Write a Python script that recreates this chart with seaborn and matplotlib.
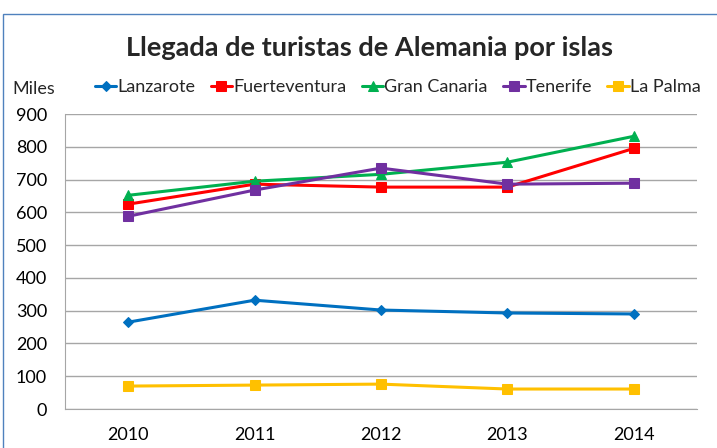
import matplotlib
matplotlib.use("Agg")
import matplotlib.pyplot as plt
import seaborn as sns
import pandas as pd
from matplotlib.patches import Rectangle

years = ["2010", "2011", "2012", "2013", "2014"]
lanzarote = [265, 332, 302, 293, 290]
fuerteventura = [625, 686, 677, 677, 795]
gran_canaria = [652, 695, 716, 753, 832]
tenerife = [588, 668, 735, 686, 689]
la_palma = [70, 73, 76, 61, 61]

islas = ["Lanzarote", "Fuerteventura", "Gran Canaria", "Tenerife", "La Palma"]
colores = ["#0070C0", "#FF0000", "#00B050", "#7030A0", "#FFC000"]
marcadores = ["D", "s", "^", "s", "s"]
tamanos = [5, 7.5, 7.5, 7.5, 7.5]

df = pd.DataFrame({"year": years, "Lanzarote": lanzarote, "Fuerteventura": fuerteventura,
                   "Gran Canaria": gran_canaria, "Tenerife": tenerife, "La Palma": la_palma})
df_long = df.melt(id_vars="year", var_name="isla", value_name="miles")

sns.set_style("white")
plt.rcParams['font.family'] = ['Lato', 'DejaVu Sans']

fig = plt.figure(figsize=(7.17, 4.48), dpi=100)
ax = fig.add_axes([0.0907, 0.087, 0.8813, 0.6585])

for isla, c, m, s in zip(islas, colores, marcadores, tamanos):
    d = df_long[df_long["isla"] == isla]
    sns.lineplot(data=d, x="year", y="miles", ax=ax, color=c, marker=m, markersize=s,
                 markeredgecolor=c, linewidth=2.2, label=isla)

ax.set_xlim(-0.5, 4.5)
ax.set_ylim(0, 900)
ax.set_yticks(range(0, 1000, 100))
ax.grid(axis="y", color="#A6A6A6", linewidth=1)
ax.set_axisbelow(True)
for sp in ["top", "right"]:
    ax.spines[sp].set_visible(False)
for sp in ["left", "bottom"]:
    ax.spines[sp].set_color("#A6A6A6")
ax.tick_params(axis="both", labelsize=13, length=0, colors="#000000")
ax.tick_params(axis="x", pad=13)
ax.tick_params(axis="y", pad=13)
ax.set_xlabel("")
ax.set_ylabel("")

leg = ax.legend(ncol=5, loc="center left", bbox_to_anchor=(0.047, 1.09), frameon=False,
                fontsize=13, handlelength=1.2, handletextpad=0.05, columnspacing=0.85,
                borderaxespad=0, borderpad=0)

fig.text(0.017, 0.802, "Miles", fontsize=13, va="center")
fig.text(0.516, 0.893, "Llegada de turistas de Alemania por islas", fontsize=19.5,
         fontweight="bold", ha="center", va="center")

fig.patches.append(Rectangle((0.004, -0.1), 1.1, 1.1 - 14 / 448, transform=fig.transFigure,
                             fill=False, edgecolor="#4F81BD", linewidth=1))

fig.savefig("out.png", dpi=100)
